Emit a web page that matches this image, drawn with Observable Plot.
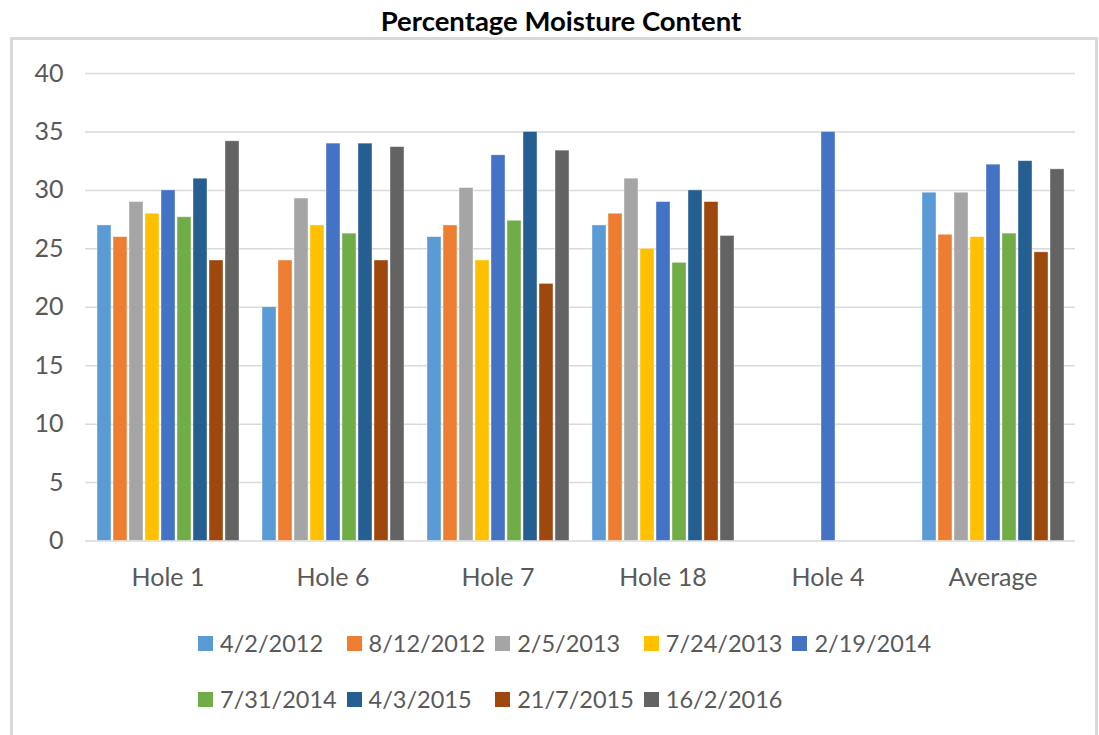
<!DOCTYPE html>
<html>
<head>
<meta charset="utf-8">
<script src="https://cdn.jsdelivr.net/npm/d3@7"></script>
<script src="https://cdn.jsdelivr.net/npm/@observablehq/plot@0.6"></script>
<style>
  html, body { margin: 0; padding: 0; background: white; }
  #wrap { position: relative; width: 1099px; height: 735px; overflow: hidden; font-family: Lato, "Open Sans", sans-serif; }
  #title { position: absolute; left: 0; top: 5px; width: 1122px; text-align: center; font-weight: bold; font-size: 27.5px; color: #000; line-height: 32px; }
  #frame { position: absolute; left: 10px; top: 37px; width: 1082px; height: 720px; border: 3px solid #d9d9d9; z-index: 5; pointer-events: none; }
  #chart { position: absolute; left: 0; top: 40px; }
  .leg { position: absolute; display: flex; align-items: center; font-size: 23.5px; color: #595959; white-space: nowrap; }
  .sw { width: 15px; height: 15px; margin-right: 7px; }
</style>
</head>
<body>
<div id="wrap">
  <div id="title">Percentage Moisture Content</div>
  <div id="chart"></div>
  <div id="legend"></div>
  <div id="frame"></div>
</div>
<script>
const holes = ["Hole 1", "Hole 6", "Hole 7", "Hole 18", "Hole 4", "Average"];
const dates = ["4/2/2012", "8/12/2012", "2/5/2013", "7/24/2013", "2/19/2014", "7/31/2014", "4/3/2015", "21/7/2015", "16/2/2016"];
const colors = ["#5B9BD5", "#ED7D31", "#A5A5A5", "#FFC000", "#4472C4", "#70AD47", "#255E91", "#9E480E", "#636363"];
const yTicks = [0, 5, 10, 15, 20, 25, 30, 35, 40];

// values per date series, ordered as holes
const s_4_2_2012   = [27, 20, 26, 27, null, 29.8];
const s_8_12_2012  = [26, 24, 27, 28, null, 26.2];
const s_2_5_2013   = [29, 29.3, 30.2, 31, null, 29.8];
const s_7_24_2013  = [28, 27, 24, 25, null, 26];
const s_2_19_2014  = [30, 34, 33, 29, 35, 32.2];
const s_7_31_2014  = [27.7, 26.3, 27.4, 23.8, null, 26.3];
const s_4_3_2015   = [31, 34, 35, 30, null, 32.5];
const s_21_7_2015  = [24, 24, 22, 29, null, 24.7];
const s_16_2_2016  = [34.2, 33.7, 33.4, 26.1, null, 31.8];

const series = [s_4_2_2012, s_8_12_2012, s_2_5_2013, s_7_24_2013, s_2_19_2014, s_7_31_2014, s_4_3_2015, s_21_7_2015, s_16_2_2016];

const data = [];
holes.forEach((h, i) => {
  dates.forEach((d, j) => {
    const v = series[j][i];
    if (v != null) data.push({hole: h, date: d, value: v});
  });
});

const plot = Plot.plot({
  width: 1099,
  height: 560,
  marginTop: 33,
  marginBottom: 59.5,
  marginLeft: 83,
  marginRight: 22,
  style: {background: "transparent", overflow: "visible", fontFamily: "Lato, 'Open Sans', sans-serif"},
  fx: {domain: holes, padding: 0, label: null},
  x: {domain: dates, paddingInner: 0.13, paddingOuter: 0.62, axis: null},
  y: {domain: [0, 40], ticks: yTicks, label: null},
  color: {domain: dates, range: colors},
  marks: [
    Plot.gridY(yTicks, {stroke: "#d9d9d9", strokeOpacity: 1, strokeWidth: 1.5}),
    Plot.barY(data, {fx: "hole", x: "date", y: "value", fill: "date", inset: 0, stroke: "white", strokeOpacity: 0.5, strokeWidth: 0.8}),
    Plot.axisY(yTicks, {tickSize: 0, tickPadding: 22, fontSize: 25, fill: "#595959", label: null}),
    Plot.axisFx({anchor: "bottom", tickSize: 0, tickPadding: 27, fontSize: 25, fill: "#595959", label: null})
  ]
});
document.getElementById("chart").appendChild(plot);

// legend
const legend = document.getElementById("legend");
dates.forEach((d, i) => {
  const row = i < 5 ? 0 : 1;
  const col = i < 5 ? i : i - 5;
  const item = document.createElement("div");
  item.className = "leg";
  item.style.left = (198 + col * 148.6) + "px";
  item.style.top = (row === 0 ? 643 : 699) - 16 + "px";
  item.style.height = "32px";
  const sw = document.createElement("div");
  sw.className = "sw";
  sw.style.background = colors[i];
  const t = document.createElement("span");
  t.textContent = d;
  item.appendChild(sw);
  item.appendChild(t);
  legend.appendChild(item);
});
</script>
</body>
</html>
